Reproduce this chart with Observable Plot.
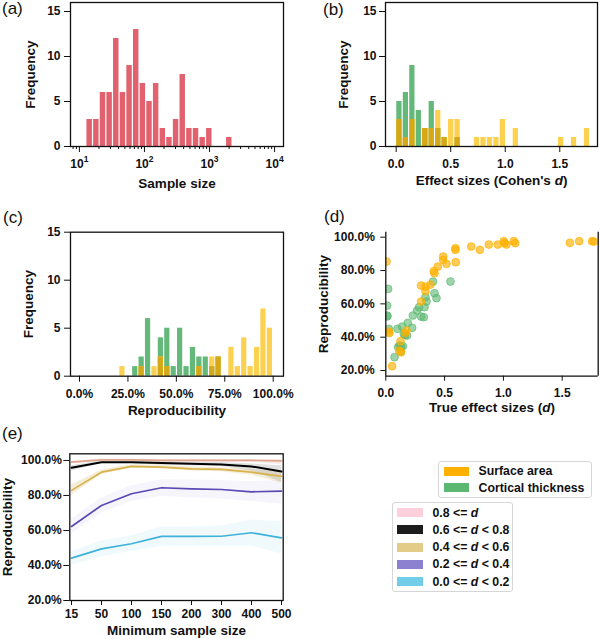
<!DOCTYPE html>
<html><head><meta charset="utf-8">
<script src="https://cdn.jsdelivr.net/npm/d3@7"></script>
<script src="https://cdn.jsdelivr.net/npm/@observablehq/plot@0.6"></script>
<style>
body{margin:0;background:#fff;}
#root{position:relative;width:600px;height:639px;overflow:hidden;font-family:"Liberation Sans",Arial,sans-serif;color:#111;}
.panel{position:absolute;}
.panel svg{overflow:visible;display:block;}
.plabel{position:absolute;font-size:17px;height:20px;line-height:20px;white-space:nowrap;}
.legend{position:absolute;border:1px solid #d6d6d6;border-radius:3px;background:#fff;font-weight:bold;font-size:12.3px;box-sizing:border-box;}
.item{position:absolute;left:0;height:14px;line-height:14px;white-space:nowrap;}
.sw{position:absolute;top:2.5px;height:9px;}
.lt{position:absolute;top:0;}
</style>
</head><body><div id="root"></div>
<script>
// ---------------- data ----------------
// (a) sample size histogram (log-spaced bins)
const sampleSizeCounts = [3,3,6,6,12,6,9,13,7,5,7,2,1,3,8,2,2,1,2,0,0,1];
const sampleSizeRange = [12.8, 2260];
// (b) effect size histogram
const effectBinStart = 0, effectBinWidth = 0.0593;
const effectSurface   = [3,1,3,0,2,2,4,1,3,3,0,0,1,1,1,1,3,0,2,0,0,0,0,0,0,1,0,1,0,2];
const effectThickness = [5,6,9,4,2,5,2,1,0,1,0,0,0,0,0,0,0,0,0,0,0,0,0,0,0,0,0,0,0,0];
// (c) reproducibility histogram
const reproBinStart = 0.205, reproBinWidth = 0.0331;
const reproSurface   = [1,0,0,1,0,1,2,1,0,0,0,0,1,0,2,2,0,3,1,4,1,3,7,5];
const reproThickness = [0,0,1,2,6,0,4,5,1,5,1,3,2,2,1,2,0,0,0,0,0,0,0,0];
// (d) true effect size vs reproducibility
const surfaceTrueD  = [0.006,0.026,0.03,0.054,0.113,0.125,0.13,0.167,0.176,0.30,0.30,0.337,0.337,0.38,0.408,0.414,0.442,0.488,0.488,0.516,0.592,0.592,0.595,0.726,0.80,0.876,0.952,1.003,1.009,1.026,1.088,1.10,1.565,1.644,1.754,1.769];
const surfaceRepro  = [0.854,0.434,0.425,0.226,0.32,0.376,0.31,0.426,0.44,0.71,0.614,0.704,0.676,0.716,0.796,0.784,0.824,0.884,0.864,0.84,0.934,0.924,0.85,0.944,0.924,0.956,0.956,0.976,0.964,0.956,0.976,0.964,0.966,0.976,0.976,0.974];
const thicknessTrueD = [0.011,0.011,0.014,0.02,0.026,0.074,0.099,0.105,0.116,0.128,0.13,0.139,0.145,0.153,0.164,0.181,0.187,0.224,0.23,0.266,0.283,0.30,0.323,0.329,0.337,0.346,0.402,0.414,0.431,0.55];
const thicknessRepro = [0.59,0.53,0.525,0.69,0.45,0.28,0.45,0.34,0.35,0.314,0.344,0.464,0.346,0.42,0.414,0.41,0.486,0.456,0.53,0.56,0.58,0.524,0.52,0.58,0.64,0.614,0.734,0.664,0.634,0.734];
// (e) reproducibility by minimum sample size
const minSampleSizes = ["15","50","100","150","200","300","400","500"];
const groupLabels = ["0.8 <= d","0.6 <= d < 0.8","0.4 <= d < 0.6","0.2 <= d < 0.4","0.0 <= d < 0.2"];
const reproD08   = [0.99,1.003,1.003,1.0,1.0,1.0,1.0,0.998];
const reproD08Lo = [0.98,0.995,0.995,0.99,0.99,0.99,0.99,0.975];
const reproD08Hi = [0.997,1.008,1.008,1.006,1.006,1.006,1.006,1.006];
const reproD06   = [0.958,0.99,0.99,0.985,0.981,0.977,0.966,0.937];
const reproD06Lo = [0.94,0.982,0.982,0.972,0.968,0.965,0.94,0.875];
const reproD06Hi = [0.97,0.997,0.997,0.993,0.99,0.988,0.98,0.97];
const reproD04   = [0.829,0.933,0.966,0.962,0.952,0.949,0.933,0.909];
const reproD04Lo = [0.80,0.92,0.955,0.952,0.94,0.935,0.915,0.87];
const reproD04Hi = [0.86,0.945,0.975,0.972,0.962,0.958,0.948,0.935];
const reproD02   = [0.623,0.743,0.81,0.844,0.838,0.834,0.821,0.825];
const reproD02Lo = [0.58,0.70,0.765,0.795,0.785,0.78,0.765,0.75];
const reproD02Hi = [0.665,0.785,0.855,0.89,0.888,0.885,0.88,0.885];
const reproD00   = [0.442,0.495,0.524,0.566,0.566,0.567,0.587,0.558];
const reproD00Lo = [0.40,0.45,0.48,0.51,0.51,0.51,0.51,0.465];
const reproD00Hi = [0.48,0.54,0.57,0.62,0.62,0.625,0.66,0.65];

// ---------------- styles ----------------
const FONT = '"Liberation Sans", Arial, sans-serif';
const RED = "#e1626e", GREEN = "#64b97a", YELLOW = "#fdd150", OVERLAP = "#d5a818";
const DOT_ORANGE = "#ffb000", DOT_GREEN = "#5cb870";
const root = document.getElementById("root");
const style = () => ({fontFamily: FONT, fontSize: "12px", fontWeight: "bold", color: "#111", background: "transparent", overflow: "visible"});
function place(svg, left, top) {
  const d = document.createElement("div");
  d.className = "panel"; d.style.left = left + "px"; d.style.top = top + "px";
  d.appendChild(svg); root.appendChild(d);
}
function panelLabel(txt, left, cy) {
  const d = document.createElement("div");
  d.className = "plabel"; d.style.left = left + "px"; d.style.top = (cy - 10) + "px";
  d.textContent = txt; root.appendChild(d);
}
function italicize(svg, full, html) {
  svg.querySelectorAll("text").forEach(t => { if (t.textContent === full) t.innerHTML = html; });
}
function axisLabels(xl, xdy, yl, ydx) {
  return [
    Plot.text([xl], {frameAnchor: "bottom", dy: xdy, textAnchor: "middle", lineAnchor: "middle", fontSize: 13.5, fontWeight: "bold"}),
    Plot.text([yl], {frameAnchor: "left", dx: ydx, rotate: -90, textAnchor: "middle", lineAnchor: "middle", fontSize: 13.5, fontWeight: "bold"})
  ];
}
function overlapBars(start, width, thick, surf) {
  const rows = thick.map((t, i) => ({x1: start + i * width, x2: start + (i + 1) * width, t, s: surf[i], o: Math.min(t, surf[i])}));
  const o = {x1: "x1", x2: "x2", insetLeft: 0.6, insetRight: 0.6};
  return [
    Plot.rectY(rows.filter(d => d.t > 0), {...o, y: "t", fill: GREEN}),
    Plot.rectY(rows.filter(d => d.s > 0), {...o, y: "s", fill: YELLOW}),
    Plot.rectY(rows.filter(d => d.o > 0), {...o, y: "o", fill: OVERLAP})
  ];
}

// ---------------- (a) ----------------
{
  const l0 = Math.log10(sampleSizeRange[0]), l1 = Math.log10(sampleSizeRange[1]);
  const w = (l1 - l0) / sampleSizeCounts.length;
  const rows = sampleSizeCounts.map((c, i) => ({x1: 10 ** (l0 + i * w), x2: 10 ** (l0 + (i + 1) * w), c})).filter(d => d.c > 0);
  const minor = [];
  for (let k = 0; k <= 3; k++) for (let m = 2; m <= 9; m++) { const v = m * 10 ** k; if (v > 7.3 && v < 13700) minor.push(v); }
  const svg = Plot.plot({
    width: 300, height: 200, marginLeft: 70, marginRight: 17, marginTop: 2, marginBottom: 54,
    style: style(),
    x: {type: "log", domain: [7.3, 13700]},
    y: {domain: [0, 16]},
    marks: [
      Plot.rectY(rows, {x1: "x1", x2: "x2", y: "c", fill: RED, insetLeft: 0.6, insetRight: 0.6}),
      Plot.axisX({ticks: minor, tickSize: 3, tickFormat: () => "", label: null}),
      Plot.axisX({ticks: [10, 100, 1000, 10000], tickSize: 6, tickPadding: 7, tickFormat: d => "10^" + Math.round(Math.log10(d)), label: null}),
      Plot.axisY({ticks: [0, 5, 10, 15], tickSize: 6, tickPadding: 4, label: null}),
      Plot.frame({stroke: "#111", strokeWidth: 1.3}),
      ...axisLabels("Sample size", 37, "Frequency", -40)
    ]
  });
  svg.querySelectorAll("text").forEach(t => {
    const m = /^10\^(\d)$/.exec(t.textContent);
    if (m) t.innerHTML = `10<tspan dy="-6" font-size="8.5">${m[1]}</tspan>`;
  });
  place(svg, 0, 0);
}

// ---------------- (b) ----------------
{
  const svg = Plot.plot({
    width: 300, height: 200, marginLeft: 85, marginRight: 3, marginTop: 2, marginBottom: 54,
    style: style(),
    x: {domain: [-0.098, 1.846]},
    y: {domain: [0, 16]},
    marks: [
      ...overlapBars(effectBinStart, effectBinWidth, effectThickness, effectSurface),
      Plot.axisX({ticks: [0, 0.5, 1, 1.5], tickSize: 6, tickPadding: 7, tickFormat: d3.format(".1f"), label: null}),
      Plot.axisY({ticks: [0, 5, 10, 15], tickSize: 6, tickPadding: 3, label: null}),
      Plot.frame({stroke: "#111", strokeWidth: 1.3}),
      ...axisLabels("Effect sizes (Cohen's d)", 34, "Frequency", -42)
    ]
  });
  italicize(svg, "Effect sizes (Cohen's d)", `Effect sizes (Cohen's <tspan font-style="italic">d</tspan>)`);
  place(svg, 300, 0);
}

// ---------------- (c) ----------------
{
  const svg = Plot.plot({
    width: 300, height: 220, marginLeft: 70, marginRight: 17, marginTop: 31.7, marginBottom: 44.3,
    style: style(),
    x: {domain: [-0.0465, 1.0532]},
    y: {domain: [0, 15]},
    marks: [
      ...overlapBars(reproBinStart, reproBinWidth, reproThickness, reproSurface),
      Plot.axisX({ticks: [0, 0.25, 0.5, 0.75, 1], tickSize: 6, tickPadding: 7, tickFormat: d3.format(".1%"), label: null}),
      Plot.axisY({ticks: [0, 5, 10, 15], tickSize: 6, tickPadding: 4, label: null}),
      Plot.frame({stroke: "#111", strokeWidth: 1.3}),
      ...axisLabels("Reproducibility", 34, "Frequency", -42)
    ]
  });
  place(svg, 0, 200);
}

// ---------------- (d) ----------------
{
  const xd = [0, 1.806], yd = [0.166, 1.03];
  const surf = surfaceTrueD.map((d, i) => ({d, r: surfaceRepro[i]}));
  const thick = thicknessTrueD.map((d, i) => ({d, r: thicknessRepro[i]}));
  const svg = Plot.plot({
    width: 300, height: 220, marginLeft: 85.3, marginRight: 2.3, marginTop: 31.7, marginBottom: 44.3,
    style: style(),
    x: {domain: xd},
    y: {domain: yd},
    marks: [
      Plot.dot(thick, {x: "d", y: "r", r: 3.9, fill: DOT_GREEN, fillOpacity: 0.6, stroke: DOT_GREEN, strokeOpacity: 0.8, strokeWidth: 0.8, clip: true}),
      Plot.dot(surf, {x: "d", y: "r", r: 3.9, fill: DOT_ORANGE, fillOpacity: 0.65, stroke: DOT_ORANGE, strokeOpacity: 0.85, strokeWidth: 0.8, clip: true}),
      Plot.axisX({ticks: [0, 0.5, 1, 1.5], tickSize: 5, tickPadding: 7, tickFormat: d3.format(".1f"), label: null}),
      Plot.axisY({ticks: [0.2, 0.4, 0.6, 0.8, 1.0], tickSize: 5, tickPadding: 6, tickFormat: d3.format(".1%"), label: null}),
      Plot.ruleX(xd, {stroke: "#111", strokeWidth: 1.3}),
      Plot.ruleY([yd[0]], {stroke: "#111", strokeWidth: 1.3}),
      ...axisLabels("True effect sizes (d)", 31, "Reproducibility", -62.6)
    ]
  });
  italicize(svg, "True effect sizes (d)", `True effect sizes (<tspan font-style="italic">d</tspan>)`);
  place(svg, 300, 200);
}

// ---------------- (e) ----------------
{
  const groups = [
    {line: reproD00, lo: reproD00Lo, hi: reproD00Hi, color: "#3fb2d9", band: "#8adcf2", op: 0.13, sw: 1.7},
    {line: reproD02, lo: reproD02Lo, hi: reproD02Hi, color: "#5a48b4", band: "#c4b8ec", op: 0.14, sw: 1.7},
    {line: reproD04, lo: reproD04Lo, hi: reproD04Hi, color: "#d8b24c", band: "#dcc27a", op: 0.3, sw: 1.7},
    {line: reproD06, lo: reproD06Lo, hi: reproD06Hi, color: "#000000", band: "#9a9a9a", op: 0.3, sw: 2},
    {line: reproD08, lo: reproD08Lo, hi: reproD08Hi, color: "#dda68f", band: "#f0b8b0", op: 0.3, sw: 1.7}
  ];
  const marks = [];
  for (const g of groups) {
    const rows = minSampleSizes.map((n, i) => ({n, y: g.line[i], lo: g.lo[i], hi: g.hi[i]}));
    marks.push(Plot.areaY(rows, {x: "n", y1: "lo", y2: "hi", fill: g.band, fillOpacity: g.op}));
    g.rows = rows;
  }
  for (const g of groups) marks.push(Plot.line(g.rows, {x: "n", y: "y", stroke: g.color, strokeWidth: g.sw}));
  const svg = Plot.plot({
    width: 300, height: 219, marginLeft: 69.3, marginRight: 17.3, marginTop: 33.3, marginBottom: 39,
    style: style(),
    x: {type: "point", domain: minSampleSizes, padding: 0},
    y: {domain: [0.2, 1.038]},
    marks: [
      ...marks,
      Plot.axisX({tickSize: 5, tickPadding: 4, label: null}),
      Plot.axisY({ticks: [0.2, 0.4, 0.6, 0.8, 1.0], tickSize: 6, tickPadding: 2, tickFormat: d3.format(".1%"), label: null}),
      Plot.frame({stroke: "#111", strokeWidth: 1.3}),
      ...axisLabels("Minimum sample size", 30, "Reproducibility", -62)
    ]
  });
  place(svg, 0, 420);
}

// ---------------- panel labels ----------------
panelLabel("(a)", 2, 9);
panelLabel("(b)", 323, 10);
panelLabel("(c)", 3, 218);
panelLabel("(d)", 324, 217);
panelLabel("(e)", 2, 434);

// ---------------- legends ----------------
function legend(left, top, w, h, items, swLeft, swW, txtLeft, firstCy, step) {
  const box = document.createElement("div");
  box.className = "legend";
  Object.assign(box.style, {left: left + "px", top: top + "px", width: w + "px", height: h + "px"});
  items.forEach((it, i) => {
    const row = document.createElement("div");
    row.className = "item";
    row.style.top = (firstCy + i * step - 7) + "px";
    row.style.width = "100%";
    const sw = document.createElement("div");
    sw.className = "sw";
    Object.assign(sw.style, {left: swLeft + "px", width: swW + "px", background: it.color});
    const t = document.createElement("div");
    t.className = "lt"; t.style.left = txtLeft + "px";
    t.innerHTML = it.html;
    row.appendChild(sw); row.appendChild(t); box.appendChild(row);
  });
  root.appendChild(box);
}
const esc = s => s.replace(/&/g, "&amp;").replace(/</g, "&lt;").replace(/>/g, "&gt;");
legend(438, 460.5, 154, 37.5, [
  {color: "#ffb000", html: "Surface area"},
  {color: "#5cb870", html: "Cortical thickness"}
], 4.5, 25.5, 39.5, 9.5, 16.5);
const legendColors = ["#ffd0dc", "#1c1c1c", "#e3cc88", "#8c80d0", "#72cde9"];
legend(391.5, 501.5, 121.5, 90.5, groupLabels.map((lab, i) => ({
  color: legendColors[i],
  html: esc(lab).replace(" d", " <i>d</i>")
})), 4, 26, 40, 10, 17.3);
</script>
</body></html>
